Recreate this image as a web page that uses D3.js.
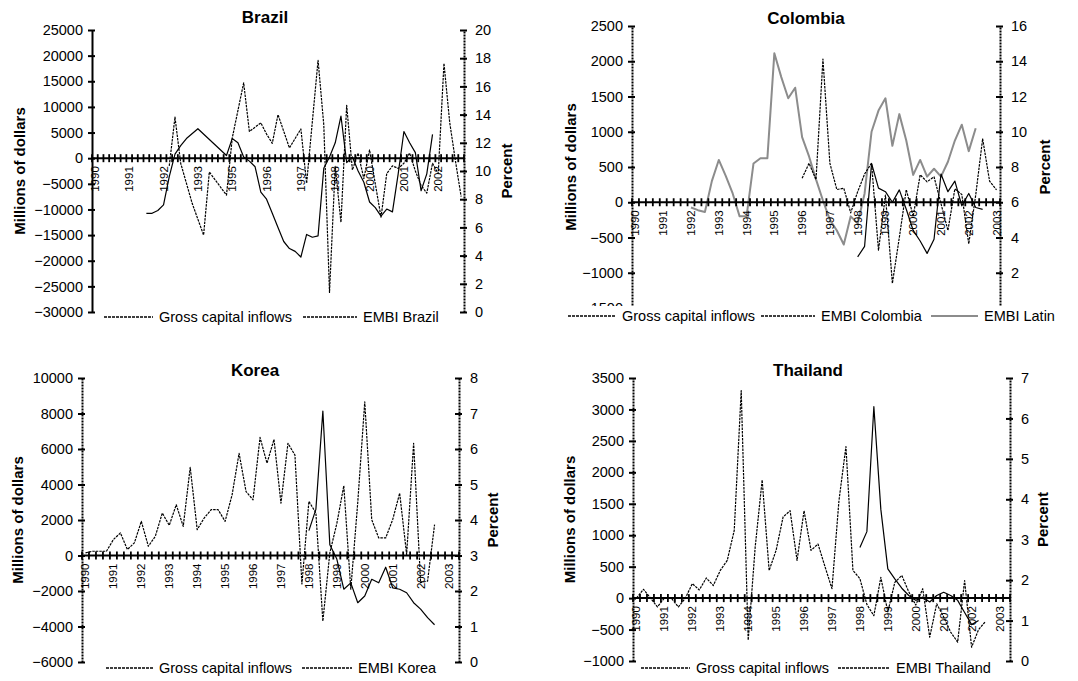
<!DOCTYPE html>
<html>
<head>
<meta charset="utf-8" />
<script src="https://cdn.jsdelivr.net/npm/d3@7"></script>
<style>
body { margin: 0; background: #fff; }
svg { display: block; font-family: "Liberation Sans", Arial, sans-serif; }
.ylab { font-size: 14.5px; }
.cat { font-size: 11.5px; }
.leg { font-size: 14.5px; }
.ttl { font-size: 17px; font-weight: bold; }
.atl { font-size: 15px; font-weight: bold; }
</style>
</head>
<body>
<svg id="chart" width="1078" height="681"></svg>
<script>
// ---- data: [period index on the category axis, value] ----
var brazilYears = ["1990","1991","1992","1993","1995","1996","1997","1998","2000","2001","2002"];
var brazilPeriods = 65;
var brazilInflows = [[13,-1500],[14,8000],[15,-1000],[17,-8800],[19,-15000],[20,-2700],[23,-7200],[24,3900],[26,14700],[27,5200],[29,6900],[30,4700],[31,2900],[32,8500],[34,2000],[36,5700],[37,-4900],[39,19100],[40,6500],[41,-26200],[42,-1600],[43,-12500],[44,10300],[45,-2300],[46,1000],[47,-4000],[48,1600],[49,-5000],[50,-11500],[51,-3000],[52,-1500],[53,-2000],[54,-1000],[55,1000],[56,-2500],[57,-5300],[58,-6800],[59,-1000],[60,-3000],[61,18500],[62,7000],[63,-500],[64,-7500]];
var brazilEmbi = [[9,7.0],[10,7.0],[11,7.2],[12,7.6],[13,9.6],[14,11.2],[15,11.8],[16,12.3],[18,13.0],[23,11.1],[24,12.3],[25,12.0],[26,11.0],[27,10.7],[28,10.3],[29,8.5],[30,8.0],[31,7.0],[32,6.0],[33,5.0],[34,4.5],[35,4.3],[36,3.9],[37,5.5],[38,5.3],[39,5.4],[40,10.2],[41,11.0],[42,12.0],[43,13.9],[44,10.6],[45,11.0],[46,10.0],[47,9.2],[48,7.8],[49,7.4],[50,6.8],[51,7.3],[52,7.1],[53,9.8],[54,12.8],[55,12.0],[56,11.3],[57,8.6],[58,9.8],[59,12.6]];

var colombiaYears = ["1990","1991","1992","1993","1994","1995","1996","1997","1998","1999","2000","2001","2002","2003"];
var colombiaPeriods = 53;
var colombiaInflows = [[24,340],[25,553],[26,320],[27,2030],[28,553],[29,180],[30,200],[31,-150],[32,150],[33,400],[34,555],[35,-680],[36,100],[37,-1150],[38,-500],[39,180],[40,-200],[41,390],[42,290],[43,360],[44,-20],[45,-400],[46,190],[47,110],[48,-590],[49,100],[50,900],[51,300],[52,175]];
var colombiaEmbi = [[32,2.9],[33,3.5],[34,8.2],[35,6.8],[36,6.6],[37,6.0],[38,6.7],[39,5.6],[40,4.4],[41,3.8],[42,3.1],[43,3.9],[44,7.6],[45,6.6],[46,7.2],[47,5.8],[48,6.5],[49,5.7],[50,5.6]];
var latinEmbi = [[8,5.7],[9,5.55],[10,5.45],[11,7.2],[12,8.4],[13,7.5],[14,6.5],[15,5.2],[16,5.2],[17,8.2],[18,8.5],[19,8.5],[20,14.45],[21,13.1],[22,11.9],[23,12.5],[24,9.7],[25,8.6],[26,7.3],[27,6.1],[28,5.0],[29,4.4],[30,3.6],[31,5.2],[32,4.8],[33,6.5],[34,10.0],[35,11.2],[36,11.9],[37,9.2],[38,11.0],[39,9.5],[40,7.55],[41,8.4],[42,7.45],[43,7.9],[44,7.45],[45,8.3],[46,9.5],[47,10.4],[48,8.9],[49,10.2]];

var koreaYears = colombiaYears;
var koreaPeriods = 54;
var koreaInflows = [[0,150],[1,240],[2,240],[3,240],[4,900],[5,1270],[6,340],[7,710],[8,1925],[9,520],[10,1080],[11,2390],[12,1700],[13,2860],[14,1640],[15,4970],[16,1460],[17,2110],[18,2580],[19,2580],[20,1925],[21,3420],[22,5760],[23,3600],[24,3140],[25,6650],[26,5200],[27,6540],[28,2950],[29,6320],[30,5660],[31,-1600],[32,3050],[33,2400],[34,-3700],[35,150],[36,1800],[37,3925],[38,-1900],[39,3000],[40,8650],[41,2020],[42,990],[43,990],[44,2020],[45,3510],[46,60],[47,6320],[48,-1530],[49,-1440],[50,1740]];
var koreaEmbi = [[32,3.7],[33,4.3],[34,7.07],[35,3.3],[36,2.9],[37,2.05],[38,2.23],[39,1.67],[40,1.86],[41,2.33],[42,2.23],[43,2.67],[44,2.09],[45,2.05],[46,1.95],[47,1.67],[48,1.49],[49,1.25],[50,1.05]];

var thaiYears = colombiaYears;
var thaiPeriods = 54;
var thaiInflows = [[0,0],[1,140],[2,0],[3,-140],[4,0],[5,0],[6,-140],[7,0],[8,230],[9,130],[10,320],[11,200],[12,440],[13,600],[14,1075],[15,3300],[16,-670],[17,810],[18,1880],[19,440],[20,760],[21,1290],[22,1390],[23,600],[24,1390],[25,760],[26,860],[27,500],[28,150],[29,1550],[30,2410],[31,440],[32,310],[33,-100],[34,-280],[35,330],[36,-220],[37,250],[38,360],[39,100],[40,-110],[41,150],[42,-620],[43,-90],[44,-300],[45,-540],[46,-700],[47,280],[48,-780],[49,-500],[50,-370]];
var thaiEmbi = [[32,2.81],[33,3.2],[34,6.29],[35,3.75],[36,2.28],[37,2.03],[38,1.8],[39,1.62],[40,1.5],[41,1.58],[42,1.46],[43,1.62],[44,1.7],[45,1.62],[46,1.5],[47,1.2],[48,0.9],[49,1.0]];

// ---- layout ----
var panels = [
  { title: "Brazil", tx: 265, ty: 23, l: 92, r: 464, t: 30, b: 312, periods: brazilPeriods, every: 6, years: brazilYears,
    left: [-30000, 25000], lstep: 5000, right: [0, 20], rstep: 2, rfirst: 0, leftDash: false,
    ltx: 20, rtx: 507,
    series: [ { data: brazilInflows, axis: "L", dash: "2.5,1", color: "#000", w: 1.2 },
              { data: brazilEmbi, axis: "R", dash: null, color: "#000", w: 1.2 } ],
    legY: 317, legend: [ { x1: 104, x2: 153, text: "Gross capital inflows", color: "#000", dash: "3,1" },
                         { x1: 303, x2: 357, text: "EMBI Brazil", color: "#000", dash: "3,1" } ] },
  { title: "Colombia", tx: 806, ty: 24, l: 632, r: 1000, t: 26, b: 308, periods: colombiaPeriods, every: 4, years: colombiaYears,
    left: [-1500, 2500], lstep: 500, right: [0, 16], rstep: 2, rfirst: 2, leftDash: true,
    ltx: 571, rtx: 1045,
    series: [ { data: latinEmbi, axis: "R", dash: null, color: "#8c8c8c", w: 2 },
              { data: colombiaInflows, axis: "L", dash: "2.5,1", color: "#000", w: 1.2 },
              { data: colombiaEmbi, axis: "R", dash: null, color: "#000", w: 1.2 } ],
    legY: 316, legend: [ { x1: 568, x2: 616, text: "Gross capital inflows", color: "#000", dash: "3,1" },
                         { x1: 761, x2: 815, text: "EMBI Colombia", color: "#000", dash: "3,1" },
                         { x1: 931, x2: 978, text: "EMBI Latin", color: "#8c8c8c", dash: null, w: 2 } ] },
  { title: "Korea", tx: 255, ty: 376, l: 82, r: 459, t: 378, b: 662, periods: koreaPeriods, every: 4, years: koreaYears,
    left: [-6000, 10000], lstep: 2000, right: [0, 8], rstep: 1, rfirst: 0, leftDash: true,
    ltx: 18, rtx: 493,
    series: [ { data: koreaInflows, axis: "L", dash: "2.5,1", color: "#000", w: 1.2 },
              { data: koreaEmbi, axis: "R", dash: null, color: "#000", w: 1.2 } ],
    legY: 668, legend: [ { x1: 106, x2: 153, text: "Gross capital inflows", color: "#000", dash: "3,1" },
                         { x1: 302, x2: 352, text: "EMBI Korea", color: "#000", dash: "3,1" } ] },
  { title: "Thailand", tx: 808, ty: 376, l: 633, r: 1010, t: 378, b: 661, periods: thaiPeriods, every: 4, years: thaiYears,
    left: [-1000, 3500], lstep: 500, right: [0, 7], rstep: 1, rfirst: 0, leftDash: true,
    ltx: 570, rtx: 1043,
    series: [ { data: thaiInflows, axis: "L", dash: "2.5,1", color: "#000", w: 1.2 },
              { data: thaiEmbi, axis: "R", dash: null, color: "#000", w: 1.2 } ],
    legY: 668, legend: [ { x1: 641, x2: 690, text: "Gross capital inflows", color: "#000", dash: "3,1" },
                         { x1: 838, x2: 890, text: "EMBI Thailand", color: "#000", dash: "3,1" } ] }
];

var svg = d3.select("#chart");

panels.forEach(function(p) {
  var g = svg.append("g");
  var x = d3.scaleLinear().domain([0, p.periods]).range([p.l, p.r]);
  var yL = d3.scaleLinear().domain(p.left).range([p.b, p.t]);
  var yR = d3.scaleLinear().domain(p.right).range([p.b, p.t]);
  var y0 = yL(0);

  // series
  p.series.forEach(function(s) {
    var sc = s.axis == "L" ? yL : yR;
    var line = d3.line().x(function(d) { return x(d[0] + 0.5); }).y(function(d) { return sc(d[1]); });
    g.append("path").datum(s.data)
      .attr("d", line)
      .attr("fill", "none")
      .attr("stroke", s.color)
      .attr("stroke-width", s.w)
      .attr("stroke-linejoin", "round")
      .attr("stroke-dasharray", s.dash);
  });

  // left axis
  var axL = d3.axisLeft(yL)
    .tickValues(d3.range(p.left[0], p.left[1] + 1, p.lstep))
    .tickFormat(d3.format("d"))
    .tickSizeInner(4).tickSizeOuter(0).tickPadding(5);
  var gL = g.append("g").attr("transform", "translate(" + p.l + ",0)").call(axL)
    .attr("font-family", null).attr("font-size", null);
  gL.select(".domain").attr("stroke-width", 2).attr("stroke-dasharray", p.leftDash ? "2,1" : null);
  gL.selectAll(".tick line").attr("x2", 3).attr("x1", -4).attr("stroke-width", 2);
  gL.selectAll(".tick text").attr("class", "ylab").attr("fill", "#000");

  // right axis
  var axR = d3.axisRight(yR)
    .tickValues(d3.range(p.rfirst, p.right[1] + 0.001, p.rstep))
    .tickFormat(d3.format("d"))
    .tickSizeInner(3).tickSizeOuter(0).tickPadding(8);
  var gR = g.append("g").attr("transform", "translate(" + p.r + ",0)").call(axR)
    .attr("font-family", null).attr("font-size", null);
  gR.select(".domain").attr("stroke-width", 2).attr("stroke-dasharray", "2,1");
  gR.selectAll(".tick line").attr("x1", -4).attr("stroke-width", 2);
  gR.selectAll(".tick text").attr("class", "ylab").attr("fill", "#000");

  // category axis on zero line
  g.append("line").attr("x1", p.l).attr("x2", p.r).attr("y1", y0).attr("y2", y0)
    .attr("stroke", "#000").attr("stroke-width", 2);
  g.selectAll("line.ct").data(d3.range(0, p.periods + 1)).enter().append("line")
    .attr("class", "ct")
    .attr("x1", function(k) { return x(k); }).attr("x2", function(k) { return x(k); })
    .attr("y1", y0 - 4).attr("y2", y0 + 4)
    .attr("stroke", "#000").attr("stroke-width", 1.8);
  g.selectAll("text.cat").data(p.years).enter().append("text")
    .attr("class", "cat")
    .attr("transform", function(d, j) {
      return "translate(" + (x(j * p.every + 0.5) + 4) + "," + (y0 + 8) + ") rotate(-90)";
    })
    .attr("text-anchor", "end")
    .text(function(d) { return d; });

  // titles
  g.append("text").attr("class", "ttl").attr("x", p.tx).attr("y", p.ty)
    .attr("text-anchor", "middle").text(p.title);
  g.append("text").attr("class", "atl")
    .attr("transform", "translate(" + (p.ltx + 5) + "," + ((p.t + p.b) / 2) + ") rotate(-90)")
    .attr("text-anchor", "middle").text("Millions of dollars");
  g.append("text").attr("class", "atl")
    .attr("transform", "translate(" + (p.rtx + 5) + "," + ((p.t + p.b) / 2) + ") rotate(-90)")
    .attr("text-anchor", "middle").text("Percent");

  // legend
  var first = p.legend[0], last = p.legend[p.legend.length - 1];
  g.append("rect").attr("x", first.x1 - 4).attr("y", p.legY - 10)
    .attr("width", last.x2 + 90 - first.x1).attr("height", 20).attr("fill", "#fff");
  p.legend.forEach(function(e) {
    g.append("line").attr("x1", e.x1).attr("x2", e.x2).attr("y1", p.legY).attr("y2", p.legY)
      .attr("stroke", e.color).attr("stroke-width", e.w || 1.5).attr("stroke-dasharray", e.dash);
    g.append("text").attr("class", "leg").attr("x", e.x2 + 6).attr("y", p.legY + 5).text(e.text);
  });
});
</script>
</body>
</html>
